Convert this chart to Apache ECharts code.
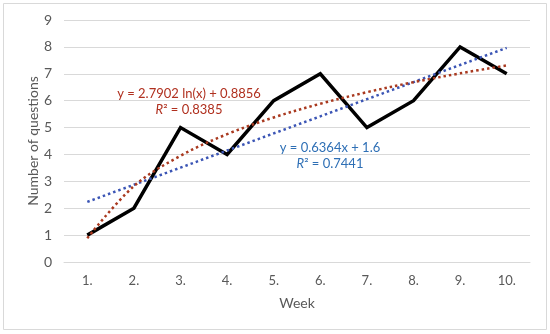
<!DOCTYPE html>
<html>
<head>
<meta charset="utf-8">
<script src="https://cdn.jsdelivr.net/npm/echarts@6/dist/echarts.min.js"></script>
<style>html,body{margin:0;padding:0;background:#fff}#c{width:550px;height:334px}</style>
</head>
<body>
<div id="c"></div>
<script>
const weeks = ['1.', '2.', '3.', '4.', '5.', '6.', '7.', '8.', '9.', '10.'];
const questions = [1, 2, 5, 4, 6, 7, 5, 6, 8, 7];
const linearTrend = [2.236, 2.873, 3.509, 4.146, 4.782, 5.418, 6.055, 6.691, 7.328, 7.964];
const logTrend = [0.886, 2.820, 3.951, 4.754, 5.376, 5.885, 6.315, 6.688, 7.016, 7.310];
const yTicks = [0, 1, 2, 3, 4, 5, 6, 7, 8, 9];
const logEq = 'y = 2.7902 ln(x) + 0.8856';
const logR2 = '0.8385';
const linEq = 'y = 0.6364x + 1.6';
const linR2 = '0.7441';

const FONT = 'Lato';
const chart = echarts.init(document.getElementById('c'));
const red = '#b0301f';
const blue = '#2e6fb5';
function eqText(x, y, eq, r2, color) {
  return [
    { type: 'text', x: x, y: y, style: { text: eq, fill: color, font: '13px "' + FONT + '"', textAlign: 'center', textVerticalAlign: 'middle' } },
    { type: 'text', x: x, y: y + 16, style: {
      text: '{i|R}{n|² = ' + r2 + '}', textAlign: 'center', textVerticalAlign: 'middle',
      rich: { i: { fill: color, fontStyle: 'italic', fontFamily: FONT, fontSize: 13 }, n: { fill: color, fontFamily: FONT, fontSize: 13 } }
    } }
  ];
}
chart.setOption({
  animation: false,
  grid: { left: 64, right: 20, top: 20, bottom: 72 },
  xAxis: {
    type: 'category', data: weeks, boundaryGap: true,
    name: 'Week', nameLocation: 'middle', nameGap: 34,
    nameTextStyle: { color: '#595959', fontSize: 14, fontFamily: FONT },
    axisLine: { show: true, lineStyle: { color: '#d9d9d9' } },
    axisTick: { show: false },
    axisLabel: { color: '#595959', fontSize: 13, fontFamily: FONT, margin: 12 }
  },
  yAxis: {
    type: 'value', min: yTicks[0], max: yTicks[yTicks.length - 1], interval: 1,
    name: 'Number of questions', nameLocation: 'middle', nameGap: 24, nameMoveOverlap: false,
    nameTextStyle: { color: '#595959', fontSize: 14, fontFamily: FONT },
    axisLine: { show: false }, axisTick: { show: false },
    axisLabel: { color: '#595959', fontSize: 14, fontFamily: FONT, margin: 12 },
    splitLine: { lineStyle: { color: '#d9d9d9', width: 1 } }
  },
  series: [
    { name: 'Questions', type: 'line', data: questions, symbol: 'none',
      lineStyle: { color: '#000', width: 3.5, join: 'miter' }, z: 2 },
    { name: 'Linear', type: 'line', data: linearTrend, symbol: 'none',
      lineStyle: { color: '#3b55b5', width: 2.5, type: [2.5, 3] }, z: 3 },
    { name: 'Log', type: 'line', data: logTrend, symbol: 'none', smooth: 0.35,
      lineStyle: { color: '#a9391f', width: 2.5, type: [2.5, 3] }, z: 3 }
  ],
  graphic: [
    { type: 'rect', shape: { x: 3.5, y: 3.5, width: 543, height: 326 }, style: { fill: 'none', stroke: '#d9d9d9', lineWidth: 1 }, z: -1 }
  ].concat(eqText(189, 94, logEq, logR2, red)).concat(eqText(330, 148, linEq, linR2, blue))
});
</script>
</body>
</html>
